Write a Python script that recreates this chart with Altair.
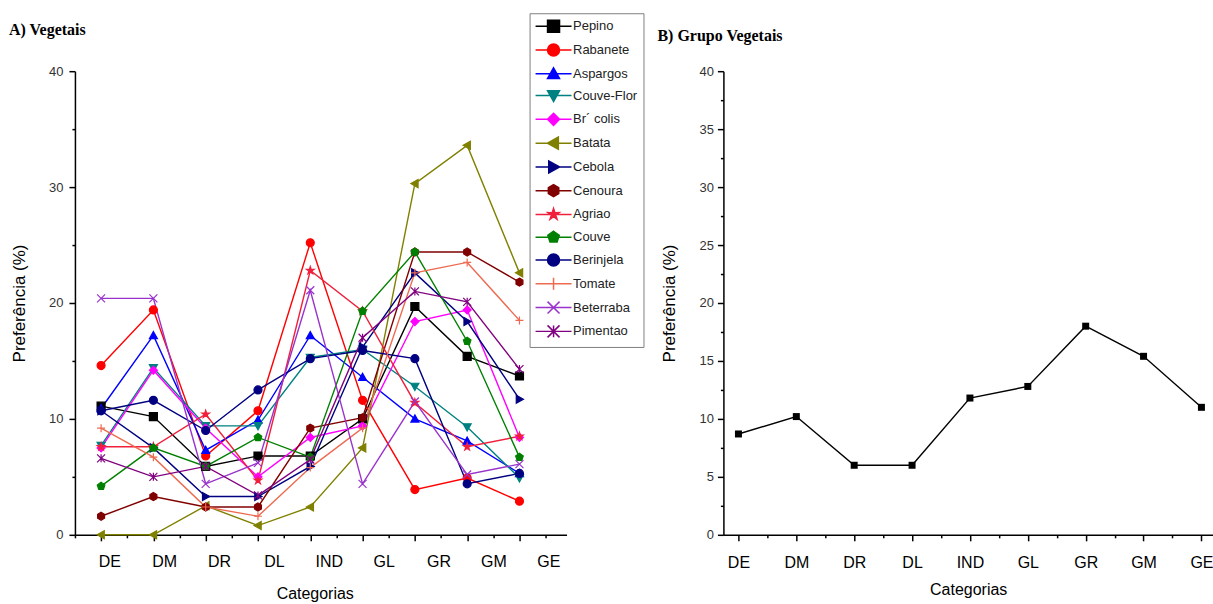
import altair as alt
import pandas as pd

categories = ["DE", "DM", "DR", "DL", "IND", "GL", "GR", "GM", "GE"]

series_names = ["Pepino", "Rabanete", "Aspargos", "Couve-Flor", "Br´ colis", "Batata",
                "Cebola", "Cenoura", "Agriao", "Couve", "Berinjela", "Tomate",
                "Beterraba", "Pimentao"]

pepino     = [11.1, 10.2, 5.9, 6.8, 6.8, 10.0, 19.7, 15.4, 13.7]
rabanete   = [14.6, 19.4, 6.8, 10.7, 25.2, 11.6, 3.9, 4.9, 2.9]
aspargos   = [10.9, 17.2, 7.3, 9.9, 17.2, 13.6, 10.0, 8.1, 5.3]
couve_flor = [7.7, 14.4, 9.4, 9.4, 15.3, 16.0, 12.8, 9.3, 4.9]
brocolis   = [7.5, 14.2, 9.2, 5.0, 8.4, 9.4, 18.4, 19.4, 8.4]
batata     = [0.0, 0.0, 2.5, 0.8, 2.4, 7.5, 30.3, 33.6, 22.6]
cebola     = [10.7, 7.5, 3.3, 3.3, 5.9, 16.2, 22.6, 18.4, 11.7]
cenoura    = [1.6, 3.3, 2.4, 2.4, 9.2, 10.1, 24.4, 24.4, 21.8]
agriao     = [7.6, 7.6, 10.4, 4.7, 22.8, 19.3, 11.4, 7.6, 8.5]
couve      = [4.2, 7.5, 5.9, 8.4, 6.7, 19.3, 24.4, 16.7, 6.7]
berinjela  = [10.7, 11.6, 9.0, 12.5, 15.2, 15.9, 15.2, 4.4, 5.3]
tomate     = [9.2, 6.7, 2.4, 1.6, 5.8, 9.2, 22.6, 23.5, 18.5]
beterraba  = [20.4, 20.4, 4.4, 6.2, 21.1, 4.4, 11.5, 5.2, 6.1]
pimentao   = [6.6, 5.0, 5.9, 3.4, 6.5, 17.0, 21.0, 20.1, 14.3]

series_values = [pepino, rabanete, aspargos, couve_flor, brocolis, batata, cebola,
                 cenoura, agriao, couve, berinjela, tomate, beterraba, pimentao]

grupo_vegetais = [8.7, 10.2, 6.0, 6.0, 11.8, 12.8, 18.0, 15.4, 11.0]

panel_titles = ["A) Vegetais", "B) Grupo Vegetais"]

series_colors = ["#000000", "#FF0000", "#0000FF", "#008080", "#FF00FF", "#808000",
                 "#000080", "#800000", "#F0203C", "#008000", "#000080", "#EE6A50",
                 "#9933CC", "#800080"]

SQUARE = "M-1,-1L1,-1L1,1L-1,1Z"
CIRCLE = "M-1,0A1,1,0,1,0,1,0A1,1,0,1,0,-1,0Z"
TRI_UP = "M0,-1L1,0.8L-1,0.8Z"
TRI_DOWN = "M0,1L1,-0.8L-1,-0.8Z"
DIAMOND = "M0,-1L1,0L0,1L-1,0Z"
TRI_LEFT = "M-1,0L0.8,-1L0.8,1Z"
TRI_RIGHT = "M1,0L-0.8,-1L-0.8,1Z"
HEXAGON = "M0,-1L0.866,-0.5L0.866,0.5L0,1L-0.866,0.5L-0.866,-0.5Z"
STAR = ("M0,-1L0.223,-0.307L0.951,-0.309L0.361,0.117L0.588,0.809L0,0.38"
        "L-0.588,0.809L-0.361,0.117L-0.951,-0.309L-0.223,-0.307Z")
PENTAGON = "M0,-1L0.951,-0.309L0.588,0.809L-0.588,0.809L-0.951,-0.309Z"
PLUS = "M-1,0L1,0M0,-1L0,1"
CROSS_X = "M-1,-1L1,1M-1,1L1,-1"
ASTERISK = "M-1,-1L1,1M-1,1L1,-1M0,-1L0,1"

series_shapes = [SQUARE, CIRCLE, TRI_UP, TRI_DOWN, DIAMOND, TRI_LEFT, TRI_RIGHT,
                 HEXAGON, STAR, PENTAGON, CIRCLE, PLUS, CROSS_X, ASTERISK]
legend_shapes = ["M-3,0L3,0" + s for s in series_shapes]

rows = []
for name, vals in zip(series_names, series_values):
    for i, v in enumerate(vals):
        rows.append({"serie": name, "idx": i + 1, "cat": categories[i], "valor": v})
df = pd.DataFrame(rows)

df_group = pd.DataFrame({"idx": list(range(1, len(categories) + 1)),
                         "cat": categories, "valor": grupo_vegetais})
df_labels = pd.DataFrame({"idx": list(range(1, len(categories) + 1)), "cat": categories})

FONT = "Liberation Sans"
cat_js = "[" + ",".join("'" + c + "'" for c in categories) + "]"

color_scale = alt.Scale(domain=series_names, range=series_colors)


def panel_title(text, dy):
    return alt.Chart(pd.DataFrame({"t": [text]})).mark_text(
        align="left", baseline="alphabetic", font="Liberation Serif", fontSize=16,
        fontWeight="bold", color="black"
    ).encode(x=alt.value(-66), y=alt.value(dy), text="t:N")


# ---------- left panel ----------
x_ticks = [0.5 + 0.5 * k for k in range(19)]
x_main = alt.X("idx:Q", scale=alt.Scale(domain=[0.5, 9.9], nice=False, zero=False),
               axis=alt.Axis(values=x_ticks, labels=False, title=None, grid=False,
                             tickSize={"condition": {"test": "datum.value % 1 === 0", "value": 6}, "value": 3},
                             tickColor="black", tickWidth=1.5,
                             domainColor="black", domainWidth=1.5))
x_plain = alt.X("idx:Q", scale=alt.Scale(domain=[0.5, 9.9], nice=False, zero=False), axis=None)

y_left = alt.Y("valor:Q", scale=alt.Scale(domain=[0, 40], nice=False),
               axis=alt.Axis(values=list(range(0, 41, 5)),
                             labelExpr="datum.value % 10 === 0 ? datum.label : ''",
                             tickSize={"condition": {"test": "datum.value % 10 === 0", "value": 6}, "value": 3},
                             tickColor="black", tickWidth=1.5, domainColor="black", domainWidth=1.5,
                             grid=False, labelFont=FONT, labelFontSize=13, labelColor="#333333",
                             labelPadding=6, title="Preferência (%)", titleFont=FONT,
                             titleFontSize=17, titleFontWeight="normal", titleColor="black",
                             titlePadding=20))

lines = alt.Chart(df).mark_line(strokeWidth=1.4).encode(
    x=x_main, y=y_left,
    color=alt.Color("serie:N", scale=color_scale, legend=None),
)

points = alt.Chart(df).mark_point(filled=True, size=64, opacity=1, strokeWidth=1.2).encode(
    x=x_plain, y=y_left,
    color=alt.Color("serie:N", scale=color_scale, legend=None),
    stroke=alt.Stroke("serie:N", scale=color_scale, legend=None),
    shape=alt.Shape("serie:N", scale=alt.Scale(domain=series_names, range=series_shapes), legend=None),
)

leg = alt.Legend(orient="none", legendX=455, legendY=-58, title=None, symbolSize=144,
                 symbolStrokeWidth=1.5, symbolOffset=11, labelOffset=12.5, padding=6,
                 rowPadding=5.8, strokeColor="#808080", fillColor="white", labelFont=FONT,
                 labelFontSize=13, labelColor="#222222", symbolOpacity=1, labelLimit=120)

legend_layer = alt.Chart(df).mark_point(filled=True, size=64, opacity=0).encode(
    x=x_plain, y=y_left,
    color=alt.Color("serie:N", scale=color_scale, legend=leg),
    stroke=alt.Stroke("serie:N", scale=color_scale, legend=leg),
    shape=alt.Shape("serie:N", scale=alt.Scale(domain=series_names, range=legend_shapes), legend=leg),
)

label_layer = alt.Chart(df_labels).mark_point(opacity=0).encode(
    x=alt.X("idx:Q", scale=alt.Scale(domain=[0.372, 9.333], nice=False, zero=False),
            axis=alt.Axis(orient="bottom", values=list(range(1, 10)),
                          labelExpr=cat_js + "[datum.value - 1]",
                          ticks=False, domain=False, grid=False, labelFont=FONT,
                          labelFontSize=16, labelColor="black", labelPadding=18.5,
                          title="Categorias", titleFont=FONT, titleFontSize=16,
                          titleFontWeight="normal", titleColor="black", titlePadding=16,
                          titleX=240)),
    y=alt.value(0),
)

left = alt.layer(lines, points, legend_layer, label_layer,
                 panel_title(panel_titles[0], -36)).resolve_scale(
    x="independent", color="independent", stroke="independent", shape="independent"
).properties(width=492, height=464)

# ---------- right panel ----------
x_ticks_r = [1 + 0.5 * k for k in range(17)]
x_right = alt.X("idx:Q", scale=alt.Scale(domain=[0.74, 9.2], nice=False, zero=False),
                axis=alt.Axis(values=x_ticks_r,
                              labelExpr="datum.value % 1 === 0 ? " + cat_js + "[datum.value - 1] : ''",
                              tickSize={"condition": {"test": "datum.value % 1 === 0", "value": 6}, "value": 3},
                              tickColor="black", tickWidth=1.5, domainColor="black", domainWidth=1.5,
                              grid=False, labelFont=FONT, labelFontSize=16, labelColor="black",
                              labelPadding=13.5, title="Categorias", titleFont=FONT, titleFontSize=16,
                              titleFontWeight="normal", titleColor="black", titlePadding=11))
y_right = alt.Y("valor:Q", scale=alt.Scale(domain=[0, 40], nice=False),
                axis=alt.Axis(values=[2.5 * k for k in range(17)],
                              labelExpr="datum.value % 5 === 0 ? datum.label : ''",
                              tickSize={"condition": {"test": "datum.value % 5 === 0", "value": 6}, "value": 3},
                              tickColor="black", tickWidth=1.5, domainColor="black", domainWidth=1.5,
                              grid=False, labelFont=FONT, labelFontSize=13, labelColor="#333333",
                              labelPadding=4, title="Preferência (%)", titleFont=FONT,
                              titleFontSize=17, titleFontWeight="normal", titleColor="black",
                              titlePadding=20))

base_r = alt.Chart(df_group).encode(x=x_right, y=y_right)
right = alt.layer(
    base_r.mark_line(color="black", strokeWidth=1.4),
    base_r.mark_point(shape="square", filled=True, size=49, color="black", opacity=1),
    panel_title(panel_titles[1], -30),
).properties(width=490, height=464)

chart = alt.hconcat(left, right, spacing=13).properties(
    padding={"left": 9, "top": 12, "right": 0, "bottom": 0},
    background="white",
).configure_view(stroke=None)

chart.save("out.html", embed_options={"renderer": "svg", "actions": False})
